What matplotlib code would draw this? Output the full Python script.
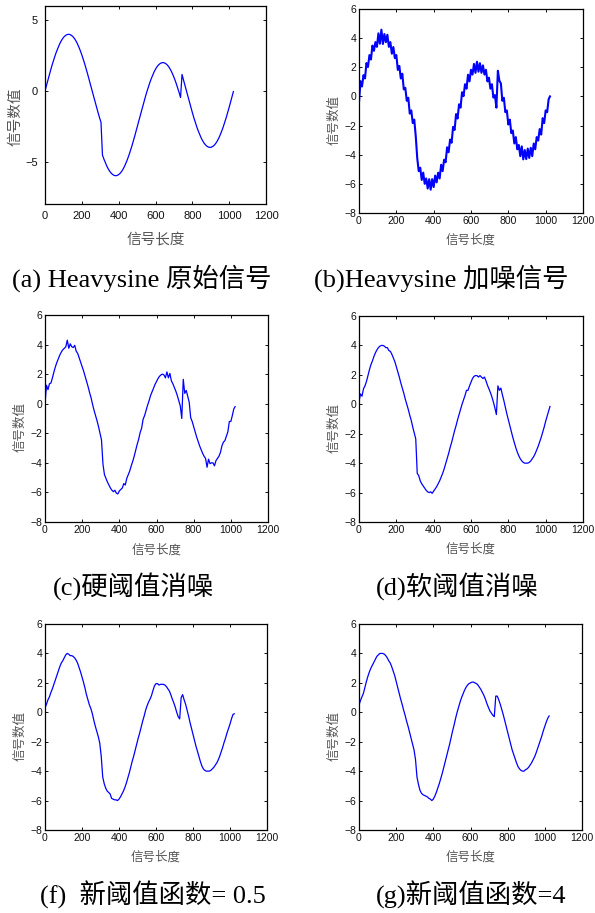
import matplotlib
matplotlib.use('Agg')
import matplotlib.pyplot as plt

plt.rcParams['font.family'] = ['Liberation Sans', 'Noto Sans CJK SC']

# sample index, every 8th point of the 1024-sample signal
idx = list(range(0, 1024, 8)) + [1023]

sig_a = [0.00, 0.39, 0.78, 1.16, 1.53, 1.89, 2.22, 2.54, 2.83, 3.09, 3.33, 3.53, 3.70, 3.83, 3.92, 3.98,
         4.00, 3.98, 3.92, 3.83, 3.70, 3.53, 3.33, 3.09, 2.83, 2.54, 2.22, 1.89, 1.53, 1.16, 0.78, 0.39,
         0.00, -0.39, -0.78, -1.16, -1.53, -1.89, -2.22, -4.54, -4.83, -5.09, -5.33, -5.53, -5.70, -5.83, -5.92, -5.98,
         -6.00, -5.98, -5.92, -5.83, -5.70, -5.53, -5.33, -5.09, -4.83, -4.54, -4.22, -3.89, -3.53, -3.16, -2.78, -2.39,
         -2.00, -1.61, -1.22, -0.84, -0.47, -0.11, 0.22, 0.54, 0.83, 1.09, 1.33, 1.53, 1.70, 1.83, 1.92, 1.98,
         2.00, 1.98, 1.92, 1.83, 1.70, 1.53, 1.33, 1.09, 0.83, 0.54, 0.22, -0.11, -0.47, 1.16, 0.78, 0.39,
         0.00, -0.39, -0.78, -1.16, -1.53, -1.89, -2.22, -2.54, -2.83, -3.09, -3.33, -3.53, -3.70, -3.83, -3.92, -3.98,
         -4.00, -3.98, -3.92, -3.83, -3.70, -3.53, -3.33, -3.09, -2.83, -2.54, -2.22, -1.89, -1.53, -1.16, -0.78, -0.39,
         -0.05]

sig_b = [-0.40, 1.05, 0.68, 1.46, 1.23, 2.29, 2.02, 2.84, 2.53, 3.49, 3.13, 3.73, 3.40, 4.33, 3.62, 4.58,
         3.60, 4.28, 3.72, 4.23, 3.40, 3.73, 2.93, 3.39, 2.63, 2.84, 1.82, 2.09, 1.23, 1.56, 0.48, 0.59,
         -0.30, -0.09, -1.18, -0.96, -1.83, -1.59, -2.72, -4.24, -5.13, -4.89, -5.73, -5.23, -6.00, -5.63, -6.32, -5.68,
         -6.40, -5.68, -6.22, -5.43, -5.90, -5.23, -5.63, -4.69, -5.13, -4.34, -4.52, -3.49, -3.83, -2.96, -3.18, -2.09,
         -2.30, -1.21, -1.52, -0.54, -0.77, 0.29, 0.02, 0.84, 0.53, 1.49, 1.03, 1.83, 1.50, 2.23, 1.62, 2.38,
         1.70, 2.28, 1.62, 2.13, 1.50, 1.83, 1.03, 1.29, 0.53, 0.84, -0.08, 0.09, -0.77, 1.76, 1.08, 0.89,
         -0.30, -0.09, -1.08, -0.96, -1.93, -1.59, -2.52, -2.34, -3.23, -2.79, -3.63, -3.33, -4.10, -3.43, -4.32, -3.68,
         -4.30, -3.58, -4.22, -3.53, -4.10, -3.23, -3.63, -2.79, -3.03, -2.24, -2.62, -1.49, -1.83, -0.96, -1.08, -0.19,
         0.00]

sig_c = [0.00, 1.25, 0.95, 1.35, 1.40, 1.75, 2.15, 2.50, 2.80, 3.05, 3.30, 3.50, 3.65, 3.75, 3.85, 4.30,
         3.75, 4.05, 3.85, 3.80, 3.95, 3.55, 3.40, 3.10, 2.80, 2.50, 2.20, 1.85, 1.50, 1.15, 0.75, 0.40,
         -0.05, -0.45, -0.80, -1.15, -1.55, -2.00, -2.45, -4.10, -4.80, -5.05, -5.30, -5.50, -5.70, -5.85, -5.95, -5.85,
         -6.05, -6.10, -5.90, -5.80, -5.70, -5.40, -5.50, -5.05, -4.80, -4.55, -4.20, -3.90, -3.55, -3.15, -2.75, -2.40,
         -1.95, -1.65, -1.05, -0.80, -0.45, -0.10, 0.20, 0.55, 0.80, 1.05, 1.30, 1.50, 1.70, 1.85, 1.95, 2.00,
         1.95, 1.75, 2.15, 1.75, 2.05, 1.55, 1.35, 1.10, 0.85, 0.55, 0.20, -0.15, -1.00, 1.65, 0.70, 0.90,
         0.50, 0.10, -0.95, -1.20, -1.55, -1.90, -2.25, -2.55, -2.85, -3.10, -3.35, -3.55, -3.70, -4.30, -3.75, -4.05,
         -4.00, -4.00, -4.20, -3.85, -3.70, -3.55, -3.30, -2.85, -2.60, -2.50, -2.20, -1.90, -1.20, -1.20, -0.80, -0.35,
         -0.20]

sig_d = [0.20, 0.70, 0.55, 1.05, 1.25, 1.55, 1.95, 2.35, 2.70, 2.95, 3.25, 3.50, 3.70, 3.85, 3.95, 4.00,
         4.00, 3.95, 3.85, 3.85, 3.65, 3.60, 3.40, 3.15, 2.90, 2.55, 2.20, 1.85, 1.45, 1.10, 0.75, 0.35,
         0.00, -0.35, -0.75, -1.10, -1.55, -1.95, -2.35, -4.70, -4.85, -5.20, -5.40, -5.55, -5.70, -5.85, -5.95, -6.00,
         -5.95, -6.05, -5.90, -5.75, -5.60, -5.40, -5.20, -4.95, -4.70, -4.40, -4.05, -3.70, -3.35, -2.95, -2.60, -2.20,
         -1.80, -1.45, -1.05, -0.70, -0.35, 0.00, 0.30, 0.60, 0.95, 0.95, 1.25, 1.50, 1.75, 1.90, 1.95, 1.95,
         1.85, 1.95, 1.85, 1.75, 1.85, 1.60, 1.30, 1.05, 0.80, 0.50, 0.15, -0.25, -0.70, 1.25, 0.95, 1.10,
         0.65, 0.25, -0.20, -0.65, -1.05, -1.45, -1.85, -2.25, -2.60, -2.95, -3.25, -3.50, -3.70, -3.85, -3.95, -4.00,
         -4.00, -4.00, -3.95, -3.85, -3.70, -3.55, -3.35, -3.10, -2.85, -2.55, -2.25, -1.90, -1.55, -1.15, -0.80, -0.45,
         -0.15]

sig_f = [0.30, 0.55, 0.85, 1.05, 1.35, 1.60, 1.90, 2.20, 2.50, 2.80, 3.10, 3.35, 3.50, 3.70, 3.90, 4.00,
         3.95, 3.85, 3.85, 3.80, 3.70, 3.55, 3.35, 3.05, 2.75, 2.40, 2.05, 1.65, 1.20, 0.85, 0.50, 0.25,
         -0.10, -0.55, -0.95, -1.30, -1.65, -2.10, -3.00, -4.40, -4.85, -5.15, -5.35, -5.45, -5.55, -5.85, -5.90, -5.95,
         -5.95, -6.00, -5.90, -5.75, -5.55, -5.35, -5.10, -4.80, -4.45, -4.10, -3.70, -3.30, -2.95, -2.55, -2.15, -1.75,
         -1.40, -1.00, -0.60, -0.25, 0.15, 0.45, 0.70, 0.90, 1.15, 1.50, 1.80, 1.95, 1.95, 1.85, 1.90, 1.90,
         1.90, 1.85, 1.75, 1.60, 1.45, 1.20, 0.90, 0.65, 0.35, 0.00, -0.30, -0.45, 1.00, 1.20, 0.85, 0.55,
         0.15, -0.25, -0.70, -1.10, -1.50, -1.90, -2.30, -2.65, -3.00, -3.35, -3.65, -3.85, -3.95, -4.00, -4.00, -4.00,
         -3.95, -3.85, -3.75, -3.60, -3.45, -3.25, -3.00, -2.70, -2.40, -2.05, -1.75, -1.40, -1.10, -0.80, -0.45, -0.15,
         -0.10]

sig_g = [0.50, 0.80, 1.05, 1.30, 1.70, 2.10, 2.45, 2.75, 3.00, 3.20, 3.40, 3.60, 3.80, 3.90, 4.00, 4.00,
         4.00, 3.95, 3.85, 3.70, 3.50, 3.35, 3.10, 2.80, 2.50, 2.10, 1.70, 1.30, 0.90, 0.55, 0.15, -0.20,
         -0.60, -0.95, -1.35, -1.75, -2.15, -2.55, -3.20, -4.40, -4.90, -5.30, -5.50, -5.60, -5.65, -5.70, -5.75, -5.85,
         -5.90, -6.00, -5.90, -5.70, -5.45, -5.15, -4.85, -4.50, -4.15, -3.75, -3.35, -2.95, -2.55, -2.15, -1.70, -1.25,
         -0.85, -0.40, 0.00, 0.35, 0.70, 1.00, 1.25, 1.50, 1.70, 1.85, 1.95, 2.00, 2.05, 2.05, 2.00, 1.95,
         1.85, 1.70, 1.55, 1.35, 1.15, 0.90, 0.60, 0.35, 0.10, -0.05, -0.20, -0.30, 1.10, 1.10, 0.85, 0.55,
         0.20, -0.15, -0.55, -0.95, -1.35, -1.75, -2.15, -2.55, -2.85, -3.15, -3.45, -3.70, -3.85, -3.95, -4.00, -4.00,
         -3.90, -3.85, -3.75, -3.60, -3.45, -3.25, -3.05, -2.80, -2.50, -2.20, -1.90, -1.60, -1.25, -0.95, -0.65, -0.40,
         -0.25]

captions = ['(a) Heavysine 原始信号', '(b)Heavysine 加噪信号', '(c)硬阈值消噪',
            '(d)软阈值消噪', '(f)  新阈值函数= 0.5', '(g)新阈值函数=4']
xticks = [0, 200, 400, 600, 800, 1000, 1200]
yticks_a = [-5, 0, 5]
yticks = [-8, -6, -4, -2, 0, 2, 4, 6]

W, H = 595, 913
fig = plt.figure(figsize=(W / 100, H / 100), dpi=100)

# panel boxes in pixels: left, top, right, bottom
panels = [
    (sig_a, (45, 6, 266, 204), 0.9, 8.0, yticks_a, (142, 278)),
    (sig_b, (359, 9, 583, 213), 1.5, 7.5, yticks, (441, 278)),
    (sig_c, (45, 315, 268, 522), 0.9, 7.5, yticks, (133, 586)),
    (sig_d, (359, 316, 583, 522), 0.9, 7.5, yticks, (457, 586)),
    (sig_f, (45, 624, 267, 830), 0.9, 7.5, yticks, (153, 895)),
    (sig_g, (359, 624, 582, 830), 0.9, 7.5, yticks, (471, 895)),
]

for i, (sig, box, lw, fs, yt, cap) in enumerate(panels):
    l, t, r, b = box
    ax = fig.add_axes([l / W, 1 - b / H, (r - l) / W, (b - t) / H])
    ax.plot(idx, sig, color='#0000ff', lw=lw)
    ax.set_xlim(0, 1200)
    ax.set_ylim(-8, 6)
    ax.set_xticks(xticks)
    ax.set_yticks(yt)
    ax.tick_params(direction='in', top=True, right=True, length=2.3, width=0.7,
                   labelsize=fs, colors='#111111', pad=5 if i == 0 else 2)
    for s in ax.spines.values():
        s.set_linewidth(0.9)
    lab_fs = 10.5 if i == 0 else 9
    ax.set_xlabel('信号长度', fontsize=lab_fs, color='#555555',
                  family=['Noto Sans CJK SC'], va='center')
    ax.set_ylabel('信号数值', fontsize=lab_fs, color='#555555',
                  family=['Noto Sans CJK SC'], va='center')
    if i == 0:
        ax.xaxis.set_label_coords(0.5, -0.182)
        ax.yaxis.set_label_coords(-0.134, 0.44)
    else:
        ax.xaxis.set_label_coords(0.5, -0.134)
        ax.yaxis.set_label_coords(-0.111, 0.458)
    fig.text(cap[0] / W, 1 - cap[1] / H, captions[i], ha='center', va='center',
             fontsize=19, family=['Liberation Serif', 'Noto Sans CJK SC'])

fig.savefig('out.png', dpi=100)
